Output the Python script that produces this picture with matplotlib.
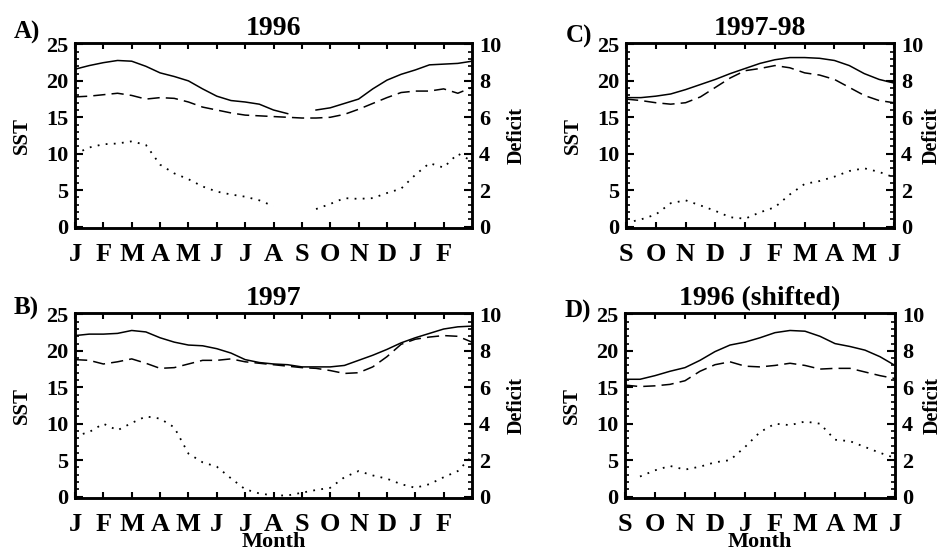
import numpy as np
import matplotlib
matplotlib.use('Agg')
import matplotlib.pyplot as plt
from matplotlib.ticker import MultipleLocator

plt.rcParams['font.family'] = ['Liberation Serif', 'DejaVu Serif']
plt.rcParams['font.weight'] = 'bold'
plt.rcParams['axes.labelweight'] = 'bold'
plt.rcParams['axes.titleweight'] = 'bold'

# month labels
months_a = ['J', 'F', 'M', 'A', 'M', 'J', 'J', 'A', 'S', 'O', 'N', 'D', 'J', 'F']
months_c = ['S', 'O', 'N', 'D', 'J', 'F', 'M', 'A', 'M', 'J']

# half-month sampling
t_long = np.arange(0, 14.01, 0.5)
t_short = np.arange(0, 9.01, 0.5)

# A) 1996
sst_a = [21.6, 22.1, 22.5, 22.8, 22.7, 22.0, 21.1, 20.6, 20.0, 18.9, 17.9, 17.3, 17.1, 16.8, 16.0,
         15.5, np.nan, 16.0, 16.3, 16.9, 17.5, 18.9, 20.1, 20.9, 21.5, 22.2, 22.3, 22.4, 22.7]
ref_a = [17.8, 17.9, 18.1, 18.3, 18.0, 17.5, 17.7, 17.6, 17.1, 16.4, 16.0, 15.6, 15.3, 15.2, 15.1,
         15.0, 14.9, 14.9, 15.0, 15.4, 16.1, 16.9, 17.7, 18.4, 18.6, 18.6, 18.9, 18.3, 19.1]
def_a = [3.98, 4.34, 4.52, 4.56, 4.68, 4.48, 3.4, 2.92, 2.6, 2.2, 1.92, 1.76, 1.64, 1.44, 1.12,
         np.nan, np.nan, 0.96, 1.24, 1.56, 1.52, 1.56, 1.84, 2.08, 2.84, 3.48, 3.24, 4.0, 3.6]

# B) 1997
sst_b = [22.1, 22.3, 22.3, 22.4, 22.8, 22.6, 21.8, 21.2, 20.8, 20.7, 20.3, 19.7, 18.8, 18.4, 18.2,
         18.1, 17.8, 17.8, 17.8, 18.0, 18.7, 19.4, 20.2, 21.1, 21.8, 22.4, 23.0, 23.3, 23.4]
ref_b = [18.8, 18.7, 18.2, 18.5, 18.9, 18.3, 17.6, 17.7, 18.2, 18.7, 18.7, 18.9, 18.5, 18.3, 18.1,
         17.9, 17.7, 17.6, 17.3, 16.9, 17.0, 17.8, 19.2, 20.9, 21.6, 21.9, 22.1, 22.0, 21.2]
def_b = [3.32, 3.54, 4.0, 3.64, 4.04, 4.4, 4.28, 3.8, 2.36, 1.88, 1.64, 1.0, 0.4, 0.17, 0.06,
         0.06, 0.21, 0.36, 0.48, 1.06, 1.4, 1.16, 0.98, 0.68, 0.48, 0.68, 1.06, 1.4, 2.22]

# C) 1997-98
sst_c = [17.7, 17.7, 17.9, 18.2, 18.8, 19.5, 20.2, 21.0, 21.7, 22.4,
         22.9, 23.2, 23.2, 23.1, 22.8, 22.1, 21.0, 20.2, 19.7]
ref_c = [17.5, 17.3, 17.0, 16.8, 17.0, 17.8, 19.1, 20.4, 21.4, 21.7,
         22.1, 21.8, 21.1, 20.8, 20.2, 19.1, 18.0, 17.3, 17.0]
def_c = [0.2, 0.39, 0.66, 1.28, 1.44, 1.16, 0.86, 0.51, 0.43, 0.78,
         1.06, 1.76, 2.34, 2.5, 2.74, 3.05, 3.2, 3.0, 2.7]

# D) 1996 (shifted)
sst_d = [16.1, 16.1, 16.6, 17.2, 17.7, 18.7, 19.9, 20.8, 21.2, 21.8,
         22.5, 22.8, 22.7, 22.0, 21.0, 20.6, 20.1, 19.2, 18.0]
ref_d = [15.3, 15.1, 15.2, 15.4, 15.9, 17.2, 18.1, 18.5, 17.9, 17.8,
         18.0, 18.3, 18.0, 17.5, 17.6, 17.6, 17.1, 16.6, 16.2]
def_d = [np.nan, 1.1, 1.44, 1.68, 1.48, 1.64, 1.88, 2.0, 2.72, 3.54,
         4.0, 3.92, 4.12, 4.0, 3.12, 3.04, 2.72, 2.4, 2.12]

W, H = 942, 551
fig = plt.figure(figsize=(W / 100, H / 100), dpi=100)


def rect(l, t, r, b):
    return [l / W, (H - b) / H, (r - l) / W, (b - t) / H]


def panel(box, t, sst, ref, dfc, labels, title, letter, letter_xy, xlabel, dpad):
    ax = fig.add_axes(box)
    ax.plot(t, sst, color='black', lw=1.1)
    ax.plot(t, ref, color='black', lw=1.1, dashes=(8, 4))
    ax.set_xlim(0, t[-1])
    ax.set_ylim(-0.2, 25.2)
    ax.set_xticks(range(len(labels)))
    ax.set_xticklabels(labels, fontsize=19)
    ax.yaxis.set_major_locator(MultipleLocator(5))
    ax.yaxis.set_minor_locator(MultipleLocator(1))
    ax.tick_params(axis='x', direction='in', top=True, length=4, width=1.5, pad=11)
    ax.tick_params(axis='y', which='major', direction='in', length=6, width=1.5, labelsize=16, pad=5)
    ax.tick_params(axis='y', which='minor', direction='in', length=3, width=1.2)
    ax.set_ylabel('SST', fontsize=15, labelpad=10)
    ax.set_title(title, fontsize=20, pad=6)
    for s in ax.spines.values():
        s.set_linewidth(1.8)
    if xlabel:
        ax.set_xlabel('Month', fontsize=16, labelpad=-3)

    ax2 = ax.twinx()
    ax2.plot(t, dfc, color='black', lw=1.3, dashes=(1, 3.5))
    ax2.set_ylim(-0.2 / 2.5, 25.2 / 2.5)
    ax2.yaxis.set_major_locator(MultipleLocator(2))
    ax2.yaxis.set_minor_locator(MultipleLocator(0.4))
    ax2.tick_params(axis='y', which='major', direction='in', length=6, width=1.5, labelsize=16, pad=5)
    ax2.tick_params(axis='y', which='minor', direction='in', length=3, width=1.2)
    ax2.set_ylabel('Deficit', fontsize=14.5, labelpad=dpad)
    for s in ax2.spines.values():
        s.set_linewidth(1.8)

    fig.text(letter_xy[0] / W, 1 - letter_xy[1] / H, letter, fontsize=18,
             fontweight='bold', ha='center', va='center')


panel(rect(75, 43, 472, 228), t_long, sst_a, ref_a, def_a, months_a, '1996', 'A)', (27, 32), False, 4)
panel(rect(75, 313, 472, 498), t_long, sst_b, ref_b, def_b, months_a, '1997', 'B)', (26, 308), True, 4)
panel(rect(626, 43, 894, 228), t_short, sst_c, ref_c, def_c, months_c, '1997-98', 'C)', (579, 36), False, -1)
panel(rect(625, 313, 895, 498), t_short, sst_d, ref_d, def_d, months_c, '1996 (shifted)', 'D)', (578, 311), True, -1)

fig.savefig('out.png', dpi=100)
